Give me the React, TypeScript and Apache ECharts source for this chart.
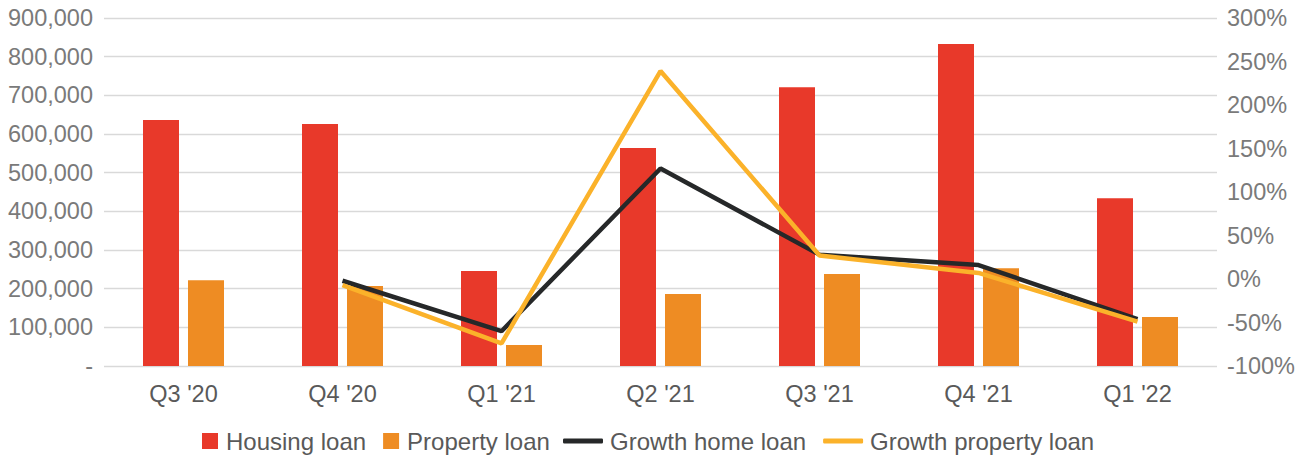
import React, { useEffect, useRef } from "react";
import * as echarts from "echarts";

const categories = ["Q3 '20", "Q4 '20", "Q1 '21", "Q2 '21", "Q3 '21", "Q4 '21", "Q1 '22"];
const housingLoan = [636000, 626000, 246000, 564000, 721000, 833000, 434000];
const propertyLoan = [222000, 207000, 54000, 186000, 238000, 253000, 127000];
const growthHomeLoan = [null, -2, -60, 127, 28, 16, -46];
const growthPropertyLoan = [null, -7, -74, 239, 27, 7, -49];

const FONT = "'Liberation Sans', Arial, Helvetica, sans-serif";
const FS = 23.5;
const LEGEND_FS = 24;

export default function App() {
  const ref = useRef<HTMLDivElement>(null);
  useEffect(() => {
    if (!ref.current) return;
    const chart = echarts.init(ref.current, undefined, { renderer: "svg" });
    chart.setOption({
      animation: false,
      textStyle: { fontFamily: FONT },
      grid: { left: 104, right: 90, top: 18, bottom: 89, containLabel: false, outerBoundsMode: "none" },
      legend: [
        {
          data: ["Housing loan", "Property loan"],
          left: 202,
          top: 429,
          padding: 0,
          icon: "rect",
          itemWidth: 16,
          itemHeight: 16,
          itemGap: 17,
          textStyle: { fontSize: LEGEND_FS, color: "#595959", fontFamily: FONT, padding: [0, 0, 0, 3] },
        },
        {
          data: ["Growth home loan", "Growth property loan"],
          left: 563,
          top: 429,
          padding: 0,
          icon: "roundRect",
          itemWidth: 40,
          itemHeight: 5,
          itemGap: 17,
          textStyle: { fontSize: LEGEND_FS, color: "#595959", fontFamily: FONT, padding: [0, 0, 0, 2] },
        },
      ],
      xAxis: {
        type: "category",
        data: categories,
        axisLine: { show: false },
        axisTick: { show: false },
        axisLabel: { fontSize: FS, color: "#595959", margin: 16, fontFamily: FONT },
      },
      yAxis: [
        {
          type: "value",
          min: 0,
          max: 900000,
          interval: 100000,
          axisLine: { show: false },
          axisTick: { show: false },
          splitLine: { lineStyle: { color: "#d9d9d9", width: 1.3 } },
          axisLabel: {
            fontSize: FS,
            color: "#7a7a7a",
            margin: 11,
            fontFamily: FONT,
            formatter: (v: number) => (v === 0 ? "-" : v.toLocaleString("en-US")),
          },
        },
        {
          type: "value",
          min: -100,
          max: 300,
          interval: 50,
          axisLine: { show: false },
          axisTick: { show: false },
          splitLine: { show: false },
          axisLabel: {
            fontSize: FS,
            color: "#7a7a7a",
            margin: 10,
            fontFamily: FONT,
            formatter: (v: number) => `${v}%`,
          },
        },
      ],
      series: [
        {
          name: "Housing loan",
          type: "bar",
          data: housingLoan,
          barWidth: 36,
          barGap: "25%",
          itemStyle: { color: "#E8392A" },
        },
        {
          name: "Property loan",
          type: "bar",
          data: propertyLoan,
          barWidth: 36,
          barGap: "25%",
          itemStyle: { color: "#EE8C23" },
        },
        {
          name: "Growth home loan",
          type: "line",
          yAxisIndex: 1,
          data: growthHomeLoan,
          symbol: "none",
          lineStyle: { color: "#262829", width: 4.5 },
          itemStyle: { color: "#262829" },
        },
        {
          name: "Growth property loan",
          type: "line",
          yAxisIndex: 1,
          data: growthPropertyLoan,
          symbol: "none",
          lineStyle: { color: "#FBB22A", width: 4.5 },
          itemStyle: { color: "#FBB22A" },
        },
      ],
    });
    return () => chart.dispose();
  }, []);
  return (
    <div
      ref={ref}
      style={{ position: "fixed", left: 0, top: 0, width: 1307, height: 455, background: "#fff" }}
    />
  );
}
